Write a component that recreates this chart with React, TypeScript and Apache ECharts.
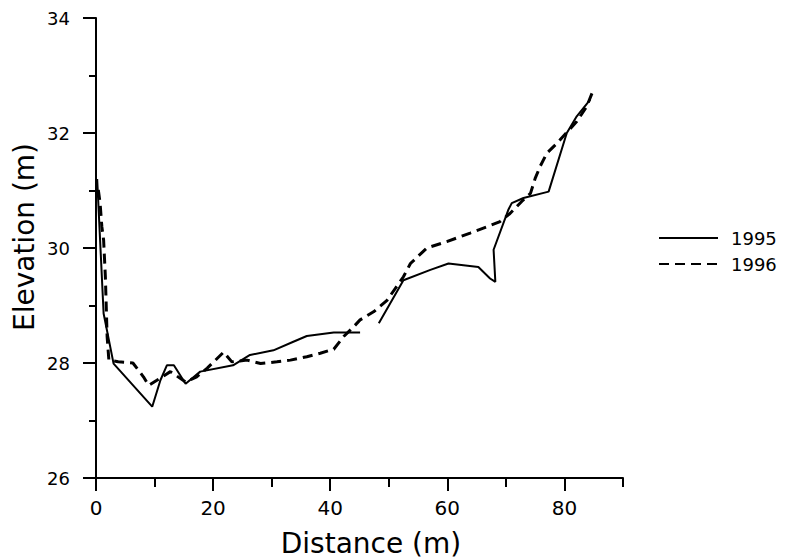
import React, { useEffect, useRef } from "react";
import * as echarts from "echarts";

const series1995Name = "1995";
const series1996Name = "1996";

const x1995 = [0.2, 1.3, 3.0, 9.6, 11.0, 12.1, 13.3, 15.3, 17.8, 23.4, 26.3, 30.3, 33.7, 36.0, 40.6, 45.1, 46.5, 48.3, 52.5, 57.1, 60.2, 65.3, 67.3, 68.2, 67.9, 70.4, 71.0, 73.0, 77.3, 80.4, 82.1, 84.4];
const y1995 = [31.2, 28.86, 27.99, 27.24, 27.7, 27.96, 27.96, 27.64, 27.85, 27.96, 28.14, 28.22, 28.37, 28.47, 28.53, 28.53, null, 28.69, 29.44, 29.62, 29.73, 29.67, 29.47, 29.41, 29.97, 30.66, 30.78, 30.87, 30.98, 32.0, 32.29, 32.58];

const x1996 = [0.4, 0.7, 1.0, 1.3, 1.6, 1.9, 2.2, 3.8, 6.3, 8.1, 9.0, 10.4, 12.7, 15.3, 17.2, 19.0, 21.8, 23.2, 25.8, 28.1, 30.9, 33.2, 36.0, 38.3, 40.6, 42.3, 44.0, 45.1, 47.4, 49.7, 52.5, 53.7, 56.5, 59.9, 63.9, 66.8, 69.0, 70.7, 72.7, 74.2, 75.0, 75.9, 77.0, 78.7, 82.1, 83.8, 84.7];
const y1996 = [31.01, 30.78, 30.37, 30.14, 29.5, 28.46, 28.05, 28.02, 28.0, 27.76, 27.61, 27.7, 27.85, 27.67, 27.76, 27.91, 28.19, 28.02, 28.05, 27.99, 28.02, 28.05, 28.11, 28.17, 28.24, 28.46, 28.63, 28.75, 28.89, 29.09, 29.5, 29.73, 30.0, 30.11, 30.26, 30.37, 30.46, 30.6, 30.81, 30.95, 31.21, 31.43, 31.65, 31.82, 32.2, 32.46, 32.69];

const xMajorTicks = [0, 20, 40, 60, 80];
const xMinorTicks = [10, 30, 50, 70, 90];
const xLabel = "Distance (m)";
const yLabel = "Elevation (m)";

const FONT = "DejaVu Sans";

export default function App() {
  const ref = useRef<HTMLDivElement>(null);
  useEffect(() => {
    document.body.style.margin = "0";
    if (!ref.current) return;
    const chart = echarts.init(ref.current, undefined, { renderer: "svg" });
    const pair = (xs: number[], ys: (number | null)[]) =>
      xs.map((x, i) => [x, ys[i] === null ? "-" : ys[i]]);
    chart.setOption({
      animation: false,
      backgroundColor: "#fff",
      grid: { left: 96, top: 18, right: 165, bottom: 81, containLabel: false },
      xAxis: [
        {
          type: "value",
          min: 0,
          max: 90,
          position: "bottom",
          axisLine: { show: true, lineStyle: { color: "#000", width: 2 } },
          axisTick: { show: true, customValues: xMajorTicks, length: 13, lineStyle: { color: "#000", width: 2 } },
          axisLabel: { customValues: xMajorTicks, margin: 20, fontSize: 20, color: "#000", fontFamily: FONT },
          splitLine: { show: false },
        },
        {
          type: "value",
          min: 0,
          max: 90,
          position: "bottom",
          axisLine: { show: false },
          axisTick: { show: true, customValues: xMinorTicks, length: 9, lineStyle: { color: "#000", width: 2 } },
          axisLabel: { show: false },
          splitLine: { show: false },
        },
      ],
      yAxis: {
        type: "value",
        min: 26,
        max: 34,
        interval: 2,
        axisLine: { show: true, lineStyle: { color: "#000", width: 2 } },
        axisTick: { show: true, length: 13, lineStyle: { color: "#000", width: 2 } },
        minorTick: { show: true, splitNumber: 2, length: 7, lineStyle: { color: "#000", width: 2 } },
        axisLabel: { margin: 26, fontSize: 18, color: "#000", fontFamily: FONT },
        splitLine: { show: false },
        minorSplitLine: { show: false },
      },
      legend: {
        data: [series1995Name, series1996Name],
        orient: "vertical",
        left: 653,
        top: 224,
        itemWidth: 59,
        itemHeight: 12,
        itemGap: 8,
        itemStyle: { opacity: 0 },
        textStyle: { fontSize: 18, color: "#000", fontFamily: FONT, padding: [0, 0, 0, 8] },
      },
      graphic: [
        {
          type: "text",
          x: 371,
          y: 543,
          style: { text: xLabel, fontSize: 28, fontFamily: FONT, fill: "#000", align: "center", verticalAlign: "middle" },
        },
        {
          type: "text",
          x: 24,
          y: 237,
          rotation: Math.PI / 2,
          style: { text: yLabel, fontSize: 28, fontFamily: FONT, fill: "#000", align: "center", verticalAlign: "middle" },
        },
      ],
      series: [
        {
          name: series1995Name,
          type: "line",
          xAxisIndex: 0,
          data: pair(x1995, y1995),
          symbol: "none",
          connectNulls: false,
          color: "#000",
          lineStyle: { color: "#000", width: 2, type: "solid" },
        },
        {
          name: series1996Name,
          type: "line",
          xAxisIndex: 0,
          data: pair(x1996, y1996),
          symbol: "none",
          color: "#000",
          lineStyle: { color: "#000", width: 3, type: [10, 6] },
        },
      ],
    });
    return () => chart.dispose();
  }, []);
  return <div ref={ref} style={{ width: 788, height: 559 }} />;
}
